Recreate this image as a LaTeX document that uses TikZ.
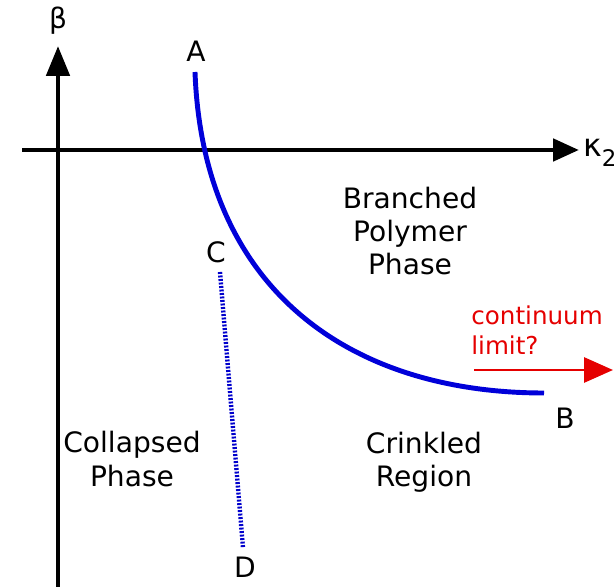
\documentclass[tikz,border=0pt]{standalone}
\usepackage{fontspec}
\setmainfont{DejaVu Sans}
\usepackage{tikz}
\usetikzlibrary{arrows.meta,positioning}

\begin{document}
\begin{tikzpicture}[x=0.02cm, y=-0.02cm, font=\fontsize{16}{19}\selectfont]
  \useasboundingbox (0,0) rectangle (616,587);

  % Achsen
  \coordinate (origin) at (58,150);
  \coordinate (ybot) at (58,590);
  \coordinate (ytop) at (58,46);
  \coordinate (xleft) at (22,150);
  \coordinate (xright) at (579,150);
  \draw[line width=2.8pt, -{Triangle[length=0.6cm, width=0.46cm]}] (ybot) -- (ytop);
  \draw[line width=2.8pt, -{Triangle[length=0.52cm, width=0.44cm]}] (xleft) -- (xright);
  \node (beta) at (58,21) {β};
  \node[anchor=west, inner sep=0pt] (kappa) at (583,153) {\fontsize{18}{20}\selectfont κ\raisebox{-0.6ex}{\fontsize{13}{15}\selectfont 2}};

  % Phasengrenzen
  \coordinate (a) at (195,72);
  \coordinate (b) at (544,393);
  \coordinate (c) at (220,272);
  \coordinate (d) at (243,548);
  \draw[blue!85!black, line width=2.8pt] (a) .. controls (203,290) and (350,393) .. (b);
  \draw[blue!80!black, line width=2.5pt, dash pattern=on 1.1pt off 0.9pt] (c) -- (d);
  \node (A) at (196,51) {A};
  \node (B) at (565,418) {B};
  \node (C) at (216,252) {C};
  \node (D) at (245,567) {D};

  % Bereiche
  \node[align=center] (branched) at (410,231) {Branched\\Polymer\\Phase};
  \node[align=center] (collapsed) at (132,459) {Collapsed\\Phase};
  \node[align=center] (crinkled) at (424,462) {Crinkled\\Region};

  % Kontinuumslimes
  \node[anchor=west, align=left, text=red!90!black, font=\fontsize{14}{17}\selectfont, inner sep=0pt] (limit) at (471,330) {continuum\\limit?};
  \coordinate (rstart) at (474,370);
  \coordinate (rend) at (613,370);
  \draw[red!90!black, line width=1.7pt, -{Triangle[length=0.58cm, width=0.5cm]}] (rstart) -- (rend);
\end{tikzpicture}
\end{document}
